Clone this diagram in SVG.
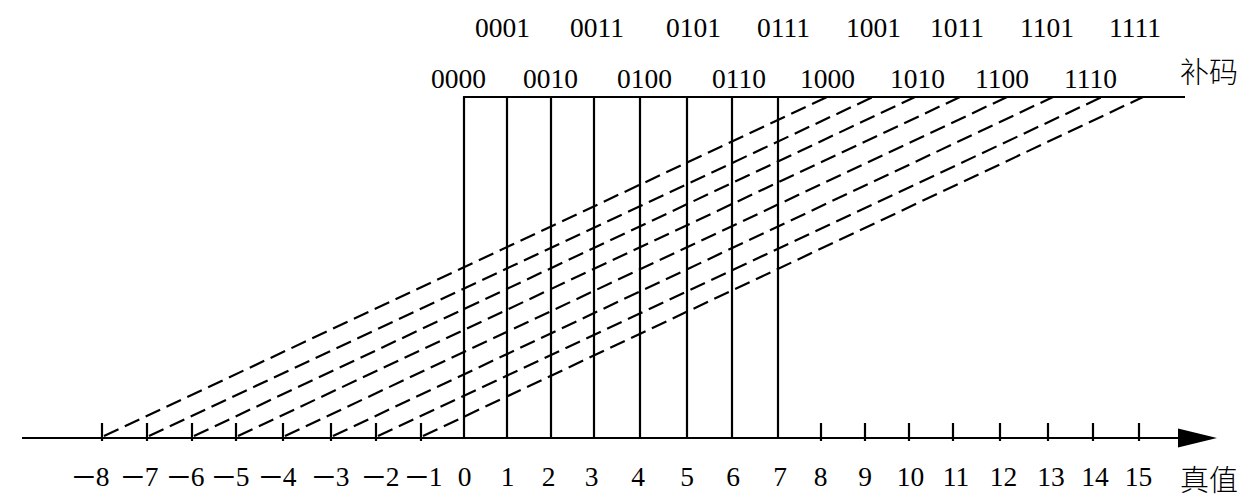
<svg xmlns="http://www.w3.org/2000/svg" width="1240" height="502" viewBox="0 0 1240 502">
<style>
.t{font-family:"Liberation Serif","Times New Roman",serif;font-size:27.5px;fill:#000}
.c{font-family:"Noto Sans CJK SC",sans-serif;font-size:29px;fill:#000;font-weight:300}
.m{font-size:42px}
.s{stroke:#000;stroke-width:2.2;fill:none}
.d{stroke:#000;stroke-width:2.2;fill:none;stroke-dasharray:16 7}
</style>
<rect width="1240" height="502" fill="#fff"/>
<g id="connectors">
<line class="s" x1="22" y1="438" x2="1182" y2="438" stroke-width="2.6"/>
<polygon points="1178,428.5 1217,438 1178,447.5" fill="#000"/>
<line class="s" x1="463" y1="97" x2="1185" y2="97"/>
<g id="ticks">
<path class="s" d="M102 423V441M147 423V441M192 423V441M236 423V441M283 423V441M331 423V441M376 423V441M421 423V441M821 423V441M865 423V441M909 423V441M953 423V441M1000 423V441M1048 423V441M1093 423V441M1139 423V441"/>
</g>
<g id="verticals">
<path class="s" d="M464 97V438M507 97V438M551 97V438M594 97V438M640 97V438M687 97V438M732 97V438M778 97V438"/>
</g>
<g id="dashed">
<line class="d" x1="104" y1="436" x2="827" y2="97"/>
<line class="d" x1="149" y1="436" x2="873" y2="97"/>
<line class="d" x1="194" y1="436" x2="915" y2="97"/>
<line class="d" x1="238" y1="436" x2="960" y2="97"/>
<line class="d" x1="285" y1="436" x2="1007" y2="97"/>
<line class="d" x1="333" y1="436" x2="1053" y2="97"/>
<line class="d" x1="378" y1="436" x2="1102" y2="97"/>
<line class="d" x1="423" y1="436" x2="1143" y2="97"/>
</g>
</g>
<g id="codes-odd" class="t">
<text x="475" y="37">0001</text>
<text x="570" y="37">0011</text>
<text x="666" y="37">0101</text>
<text x="757" y="37">0111</text>
<text x="846" y="37">1001</text>
<text x="930" y="37">1011</text>
<text x="1020" y="37">1101</text>
<text x="1109" y="37">1111</text>
</g>
<g id="codes-even" class="t">
<text x="431" y="88">0000</text>
<text x="523" y="88">0010</text>
<text x="617" y="88">0100</text>
<text x="712" y="88">0110</text>
<text x="800" y="88">1000</text>
<text x="890" y="88">1010</text>
<text x="975" y="88">1100</text>
<text x="1064" y="88">1110</text>
</g>
<g id="label-code"><text class="c" x="1180" y="83">补码</text></g>
<g id="neg-labels" class="t" text-anchor="end">
<text x="109.5" y="486"><tspan class="m" dy="5">−</tspan><tspan dy="-5">8</tspan></text>
<text x="158.5" y="486"><tspan class="m" dy="5">−</tspan><tspan dy="-5">7</tspan></text>
<text x="204.5" y="486"><tspan class="m" dy="5">−</tspan><tspan dy="-5">6</tspan></text>
<text x="249.5" y="486"><tspan class="m" dy="5">−</tspan><tspan dy="-5">5</tspan></text>
<text x="296.5" y="486"><tspan class="m" dy="5">−</tspan><tspan dy="-5">4</tspan></text>
<text x="349.5" y="486"><tspan class="m" dy="5">−</tspan><tspan dy="-5">3</tspan></text>
<text x="399.5" y="486"><tspan class="m" dy="5">−</tspan><tspan dy="-5">2</tspan></text>
<text x="442.5" y="486"><tspan class="m" dy="5">−</tspan><tspan dy="-5">1</tspan></text>
</g>
<g id="pos-labels" class="t" text-anchor="middle">
<text x="464.5" y="486">0</text>
<text x="507.5" y="486">1</text>
<text x="548.5" y="486">2</text>
<text x="591.5" y="486">3</text>
<text x="638" y="486">4</text>
<text x="687" y="486">5</text>
<text x="733" y="486">6</text>
<text x="780" y="486">7</text>
<text x="820.5" y="486">8</text>
<text x="865" y="486">9</text>
<text x="910.5" y="486">10</text>
<text x="956" y="486">11</text>
<text x="1003.5" y="486">12</text>
<text x="1051" y="486">13</text>
<text x="1095" y="486">14</text>
<text x="1138.5" y="486">15</text>
</g>
<g id="label-value"><text class="c" x="1180" y="491">真值</text></g>
</svg>
